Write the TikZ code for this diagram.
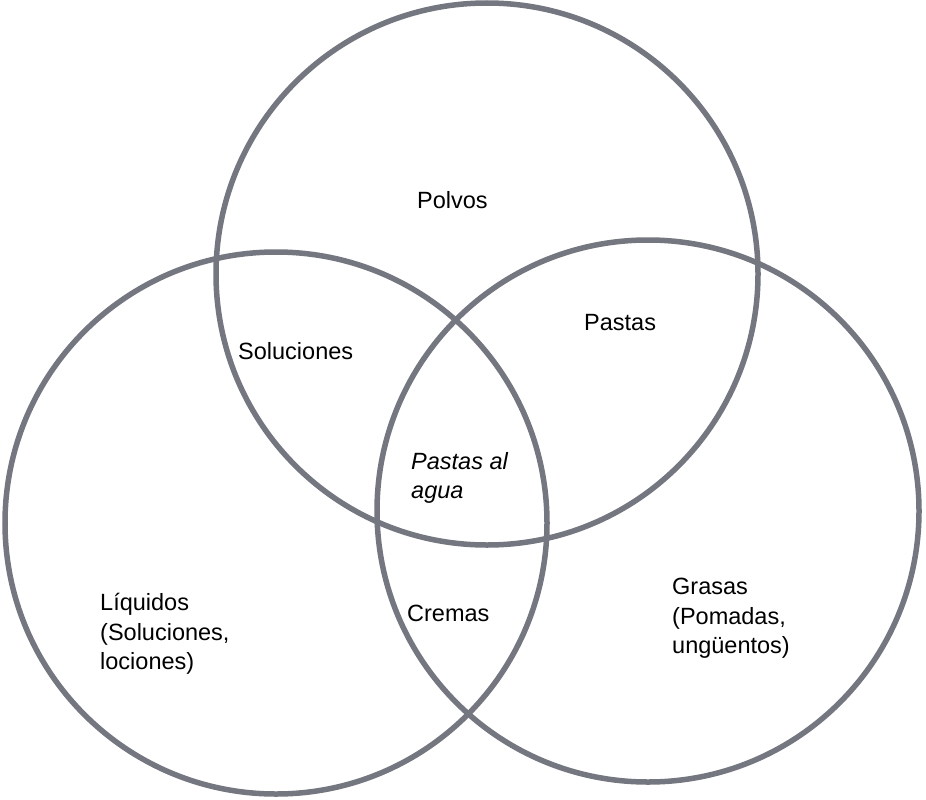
\documentclass[tikz,border=0pt]{standalone}
\usepackage{fontspec}
\setmainfont{Liberation Sans}
\usepackage{xcolor}
\usetikzlibrary{positioning}
\definecolor{ringgray}{RGB}{116,118,128}

\begin{document}
\begin{tikzpicture}[x=1pt,y=-1pt,
  every node/.style={inner sep=0pt,align=left,font=\fontsize{23.5}{29.5}\selectfont},
  ring/.style={draw=ringgray,line width=5.5pt}]
  \useasboundingbox (0,0) rectangle (926,800);
  \coordinate (top) at (487,274);
  \coordinate (left) at (276,523);
  \coordinate (right) at (648,511);
  \draw[ring] (top) circle[radius=271];
  \draw[ring] (left) circle[radius=271];
  \draw[ring] (right) circle[radius=271];
  \node[anchor=west] (polvos) at (417,200) {Polvos};
  \node[anchor=west] (pastas) at (584,323) {Pastas};
  \node[anchor=west] (soluc) at (238,351) {Soluciones};
  \node[anchor=north west] (agua) at (411,452) {\itshape Pastas al\\\itshape agua};
  \node[anchor=west] (cremas) at (407,613) {Cremas};
  \node[anchor=north west] (liquidos) at (100,593) {Líquidos\\(Soluciones,\\lociones)};
  \node[anchor=north west] (grasas) at (672,578) {Grasas\\(Pomadas,\\ungüentos)};
\end{tikzpicture}
\end{document}
